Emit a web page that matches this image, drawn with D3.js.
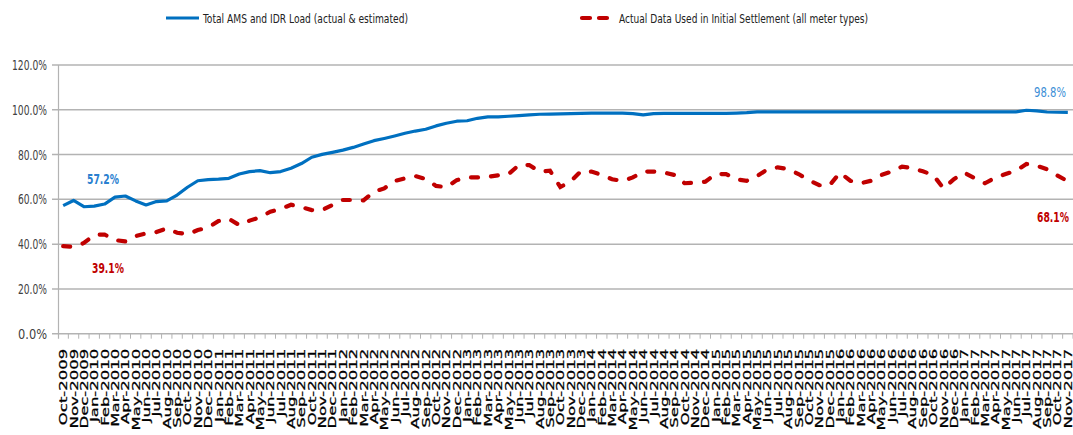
<!DOCTYPE html>
<html><head><meta charset="utf-8">
<script src="https://cdn.jsdelivr.net/npm/d3@7"></script>
<style>body{margin:0;background:#fff}svg{display:block}</style>
</head><body><svg id="c" width="1073" height="435"></svg>
<script>
const categories = ["Oct-2009","Nov-2009","Dec-2009","Jan-2010","Feb-2010","Mar-2010","Apr-2010","May-2010","Jun-2010","Jul-2010","Aug-2010","Sep-2010","Oct-2010","Nov-2010","Dec-2010","Jan-2011","Feb-2011","Mar-2011","Apr-2011","May-2011","Jun-2011","Jul-2011","Aug-2011","Sep-2011","Oct-2011","Nov-2011","Dec-2011","Jan-2012","Feb-2012","Mar-2012","Apr-2012","May-2012","Jun-2012","Jul-2012","Aug-2012","Sep-2012","Oct-2012","Nov-2012","Dec-2012","Jan-2013","Feb-2013","Mar-2013","Apr-2013","May-2013","Jun-2013","Jul-2013","Aug-2013","Sep-2013","Oct-2013","Nov-2013","Dec-2013","Jan-2014","Feb-2014","Mar-2014","Apr-2014","May-2014","Jun-2014","Jul-2014","Aug-2014","Sep-2014","Oct-2014","Nov-2014","Dec-2014","Jan-2015","Feb-2015","Mar-2015","Apr-2015","May-2015","Jun-2015","Jul-2015","Aug-2015","Sep-2015","Oct-2015","Nov-2015","Dec-2015","Jan-2016","Feb-2016","Mar-2016","Apr-2016","May-2016","Jun-2016","Jul-2016","Aug-2016","Sep-2016","Oct-2016","Nov-2016","Dec-2016","Jan-2017","Feb-2017","Mar-2017","Apr-2017","May-2017","Jun-2017","Jul-2017","Aug-2017","Sep-2017","Oct-2017","Nov-2017"];
const totalLoad = [57.2,59.5,56.7,57.0,57.9,61.0,61.5,59.3,57.5,59.0,59.3,61.9,65.4,68.3,68.8,69.0,69.4,71.3,72.4,72.8,71.9,72.4,73.9,76.0,78.8,80.1,81.0,82.0,83.2,84.7,86.2,87.2,88.3,89.5,90.5,91.3,92.8,94.0,94.9,95.1,96.2,96.8,96.8,97.1,97.4,97.7,98.0,98.1,98.2,98.3,98.4,98.5,98.5,98.5,98.5,98.3,97.7,98.3,98.4,98.4,98.4,98.4,98.4,98.4,98.4,98.5,98.7,99.1,99.1,99.1,99.1,99.1,99.1,99.1,99.1,99.1,99.1,99.1,99.1,99.1,99.1,99.1,99.1,99.1,99.1,99.1,99.1,99.1,99.1,99.1,99.1,99.1,99.1,99.8,99.5,99.0,98.9,98.8];
const actualData = [39.1,38.8,40.5,44.1,44.3,41.8,41.2,43.6,44.8,45.4,47.0,45.1,44.4,46.3,47.4,50.3,51.3,48.5,50.5,52.0,54.5,55.7,57.6,56.5,55.2,55.2,57.5,59.7,59.7,59.5,63.4,64.9,68.2,69.4,70.4,69.1,66.0,65.4,68.6,69.8,69.8,70.1,70.7,71.3,75.3,75.3,72.4,72.8,65.5,68.0,72.6,72.4,70.9,69.0,68.2,69.8,72.4,72.4,72.0,70.9,67.2,67.4,67.9,71.3,71.3,68.9,68.3,70.4,73.4,74.3,73.5,71.3,68.6,66.3,66.3,71.9,68.3,67.2,68.3,70.9,72.4,74.6,73.9,72.5,70.9,64.9,69.0,71.9,69.5,67.2,69.7,71.3,72.8,75.8,75.0,73.4,70.6,68.1];
const yTicks = [0,20,40,60,80,100,120];
const seriesNames = ["Total AMS and IDR Load (actual & estimated)","Actual Data Used in Initial Settlement (all meter types)"];
const endLabels = ["57.2%","39.1%","98.8%","68.1%"];

const svg = d3.select("#c");
const pLeft = 58, pRight = 1073, pTop = 65, pBottom = 333.7;
const x = d3.scaleBand().domain(categories).range([pLeft, pRight]).padding(0);
const y = d3.scaleLinear().domain([0,120]).range([pBottom, pTop]);
const cx = d => x(d) + x.bandwidth()/2;

// gridlines
svg.append("g").selectAll("line").data(yTicks).join("line")
  .attr("x1", pLeft-6).attr("x2", pRight).attr("y1", d=>y(d)).attr("y2", d=>y(d))
  .attr("stroke", "#b3b3b3").attr("stroke-width", 1.5);
// left axis line
svg.append("line").attr("x1", pLeft+0.5).attr("x2", pLeft+0.5).attr("y1", pTop).attr("y2", pBottom+5)
  .attr("stroke", "#b3b3b3").attr("stroke-width", 1.2);
// y labels
svg.append("g").selectAll("text").data(yTicks).join("text")
  .attr("x", 47).attr("y", d=>y(d)+5)
  .attr("text-anchor","end")
  .attr("font-family","'Liberation Sans Narrow','DejaVu Sans Condensed',sans-serif")
  .attr("font-size", 14).attr("fill","#404040")
  .attr("textLength", d=>d===120||d===100?35:29).attr("lengthAdjust","spacingAndGlyphs")
  .text(d=>d.toFixed(1)+"%");
// x ticks at band boundaries
svg.append("g").selectAll("line").data(categories).join("line")
  .attr("x1", d=>x(d)+x.bandwidth()).attr("x2", d=>x(d)+x.bandwidth())
  .attr("y1", pBottom).attr("y2", pBottom+5)
  .attr("stroke","#b3b3b3").attr("stroke-width",1);
// x labels
svg.append("g").selectAll("text").data(categories).join("text")
  .attr("transform", d=>`translate(${cx(d)+4},${pBottom+15}) rotate(-90) scale(1.5,1)`)
  .attr("text-anchor","end")
  .attr("font-family","'DejaVu Sans',sans-serif")
  .attr("font-size", 11).attr("fill","#000")
  .attr("stroke","#000").attr("stroke-width",0.25)
  .text(d=>d);

const line = d3.line().x((d,i)=>cx(categories[i])).y(d=>y(d));
svg.append("path").datum(actualData).attr("d", line)
  .attr("fill","none").attr("stroke","#C00000").attr("stroke-width",4.2)
  .attr("stroke-dasharray","7,13").attr("stroke-linecap","round");
svg.append("path").datum(totalLoad).attr("d", line)
  .attr("fill","none").attr("stroke","#0070C0").attr("stroke-width",3.2)
  .attr("stroke-linejoin","round");

// data labels (scaled horizontally to a fixed width)
const lf = "'Liberation Sans Narrow','DejaVu Sans Condensed',sans-serif";
const lab = [
  {t:endLabels[0], x: 87, y: 184, c:"#2a7fd0", w:"bold"},
  {t:endLabels[1], x: 92, y: 273, c:"#C00000", w:"bold"},
  {t:endLabels[2], x: 1034, y: 97, c:"#3d8fd6", w:"normal"},
  {t:endLabels[3], x: 1037, y: 222, c:"#C00000", w:"bold"}
];
svg.append("g").selectAll("text").data(lab).join("text")
  .attr("font-family", lf).attr("font-size", 14).attr("font-weight", d=>d.w)
  .attr("fill", d=>d.c).text(d=>d.t)
  .attr("transform", function(d){
    const w = this.getComputedTextLength() || 32;
    return `translate(${d.x},${d.y}) scale(${32/w},1)`;
  });

// legend
const lg = svg.append("g");
lg.append("line").attr("x1",166).attr("x2",199).attr("y1",18).attr("y2",18)
  .attr("stroke","#0070C0").attr("stroke-width",3.2);
lg.append("text").attr("x",203).attr("y",23).attr("font-family",lf).attr("font-size",13)
  .attr("fill","#222").attr("textLength",205).attr("lengthAdjust","spacingAndGlyphs").text(seriesNames[0]);
lg.append("line").attr("x1",582).attr("x2",614).attr("y1",18).attr("y2",18)
  .attr("stroke","#C00000").attr("stroke-width",4.2).attr("stroke-dasharray","8,9").attr("stroke-linecap","round");
lg.append("text").attr("x",619).attr("y",23).attr("font-family",lf).attr("font-size",13)
  .attr("fill","#222").attr("textLength",249).attr("lengthAdjust","spacingAndGlyphs").text(seriesNames[1]);
</script></body></html>
